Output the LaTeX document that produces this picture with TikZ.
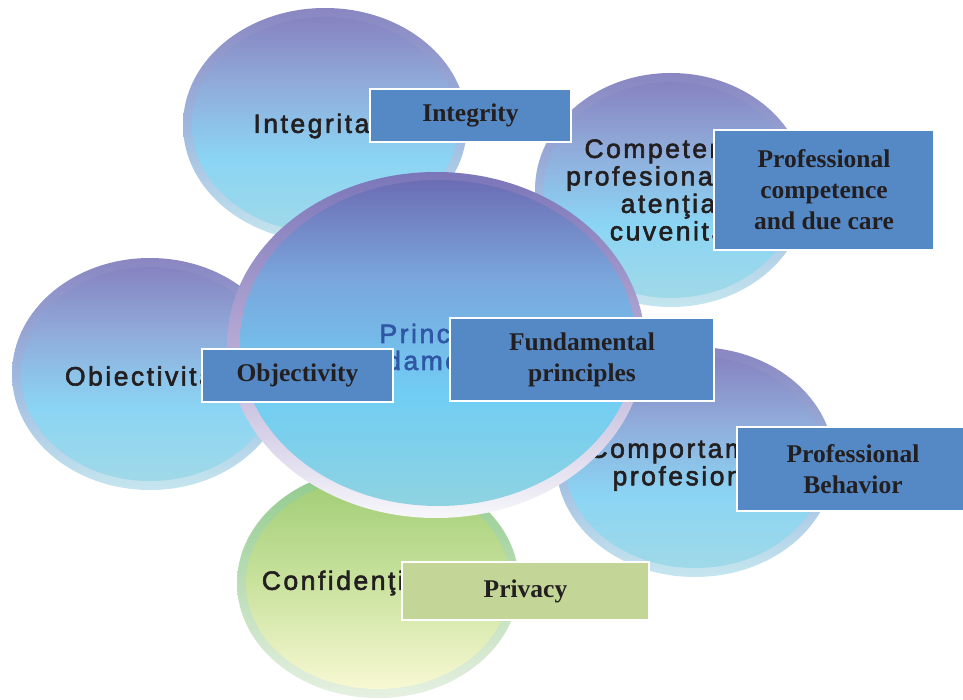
\documentclass[tikz,border=0pt]{standalone}
\usepackage{fontspec}
\setmainfont{Liberation Serif}
\newfontfamily\rofont{Liberation Sans}[LetterSpace=9.5,FakeBold=2.2]
\usetikzlibrary{shapes.geometric}

% palette
\definecolor{bbtop}{HTML}{8683C1}
\definecolor{bbup}{HTML}{90AAD9}
\definecolor{bblow}{HTML}{8BD5F4}
\definecolor{bbbot}{HTML}{A0D9E8}
\definecolor{brtop}{HTML}{8A86C1}
\definecolor{brmid}{HTML}{9DB8DF}
\definecolor{brbot}{HTML}{C5E6EF}
\definecolor{cbtop}{HTML}{6C6DB4}
\definecolor{cbup}{HTML}{7AA6DC}
\definecolor{cblow}{HTML}{70CDF3}
\definecolor{cbbot}{HTML}{8FD3E1}
\definecolor{crtop}{HTML}{7B76B9}
\definecolor{crmid}{HTML}{B6AAD5}
\definecolor{crbot}{HTML}{F7F7FB}
\definecolor{gbtop}{HTML}{A0CD74}
\definecolor{gbmid}{HTML}{C9E29E}
\definecolor{gbbot}{HTML}{F8F8D3}
\definecolor{grtop}{HTML}{8FCA8A}
\definecolor{grbot}{HTML}{E6F0E2}
\definecolor{boxblue}{HTML}{5589C5}
\definecolor{boxgreen}{HTML}{C3D698}
\definecolor{ink}{HTML}{231F20}
\definecolor{titleblue}{HTML}{3056A6}

\pgfdeclareverticalshading{bluebub}{100bp}{color(0bp)=(bbbot); color(25bp)=(bbbot);
  color(42bp)=(bblow); color(60bp)=(bbup); color(75bp)=(bbtop); color(100bp)=(bbtop)}
\pgfdeclareverticalshading{bluerim}{100bp}{color(0bp)=(brbot); color(25bp)=(brbot);
  color(50bp)=(brmid); color(75bp)=(brtop); color(100bp)=(brtop)}
\pgfdeclareverticalshading{centbub}{100bp}{color(0bp)=(cbbot); color(25bp)=(cbbot);
  color(42bp)=(cblow); color(60bp)=(cbup); color(75bp)=(cbtop); color(100bp)=(cbtop)}
\pgfdeclareverticalshading{centrim}{100bp}{color(0bp)=(crbot); color(25bp)=(crbot);
  color(50bp)=(crmid); color(75bp)=(crtop); color(100bp)=(crtop)}
\pgfdeclareverticalshading{greenbub}{100bp}{color(0bp)=(gbbot); color(25bp)=(gbbot);
  color(50bp)=(gbmid); color(75bp)=(gbtop); color(100bp)=(gbtop)}
\pgfdeclareverticalshading{greenrim}{100bp}{color(0bp)=(grbot); color(25bp)=(grbot);
  color(75bp)=(grtop); color(100bp)=(grtop)}

\begin{document}
\begin{tikzpicture}[x=1pt,y=-1pt,
  bubbletext/.style={text=ink, align=center, inner sep=0pt,
    font=\rofont\fontsize{26.5}{27.5}\selectfont},
  centretext/.style={text=titleblue, align=center, inner sep=0pt,
    font=\rofont\fontsize{26.5}{27}\selectfont},
  labelbox/.style={rectangle, draw=white, line width=2.5pt, fill=boxblue,
    text=ink, align=center, inner sep=0pt,
    font=\bfseries\fontsize{25.5}{31}\selectfont}]
\useasboundingbox (0,0) rectangle (963,700);
\fill[white] (0,0) rectangle (963,700);

% Integritate
\shade[shading=bluerim] (325,125) ellipse [x radius=142pt, y radius=117pt];
\shade[shading=bluebub] (325,125) ellipse [x radius=133pt, y radius=108pt];
\node[bubbletext] (int) at (325,126) {Integritate};

% Competenta profesionala
\shade[shading=bluerim] (671,190) ellipse [x radius=136pt, y radius=117pt];
\shade[shading=bluebub] (671,190) ellipse [x radius=127pt, y radius=108pt];
\node[bubbletext] (com) at (668,190) {Competenţa\\profesională şi\\atenţia\\cuvenită};

% Obiectivitate
\shade[shading=bluerim] (150,374) ellipse [x radius=138pt, y radius=116pt];
\shade[shading=bluebub] (150,374) ellipse [x radius=129pt, y radius=107pt];
\node[bubbletext] (ob) at (153,376) {Obiectivitate};

% Comportament profesional
\shade[shading=bluerim] (695,462) ellipse [x radius=139pt, y radius=115pt];
\shade[shading=bluebub] (695,462) ellipse [x radius=130pt, y radius=106pt];
\node[bubbletext] (cp) at (690,465) {Comportament\\profesional};

% Confidentialitate
\shade[shading=greenrim] (378,583) ellipse [x radius=141pt, y radius=115pt];
\shade[shading=greenbub] (378,583) ellipse [x radius=132pt, y radius=106pt];
\node[bubbletext] (cf) at (377,583) {Confidenţialitate};

% central bubble
\shade[shading=centrim] (436,345) ellipse [x radius=209pt, y radius=173pt];
\shade[shading=centbub] (438,343) ellipse [x radius=198pt, y radius=163pt];
\node[centretext] (ct) at (436,347) {Principii\\fundamentale};

% English labels
\node[labelbox, minimum width=201pt, minimum height=53pt] (lint) at (470.5,115.5) {Integrity};
\node[labelbox, minimum width=220pt, minimum height=120pt] (lcom) at (824,190)
  {Professional\\competence\\and due care};
\node[labelbox, minimum width=191pt, minimum height=53pt] (lob) at (297.5,375.5) {Objectivity};
\node[labelbox, minimum width=264pt, minimum height=83pt] (lct) at (582,359.5)
  {Fundamental\\principles};
\node[labelbox, minimum width=232pt, minimum height=84pt] (lcp) at (853,469)
  {Professional\\Behavior};
\node[labelbox, fill=boxgreen, minimum width=247pt, minimum height=58pt] (lcf) at (525.5,591) {Privacy};
\end{tikzpicture}
\end{document}
